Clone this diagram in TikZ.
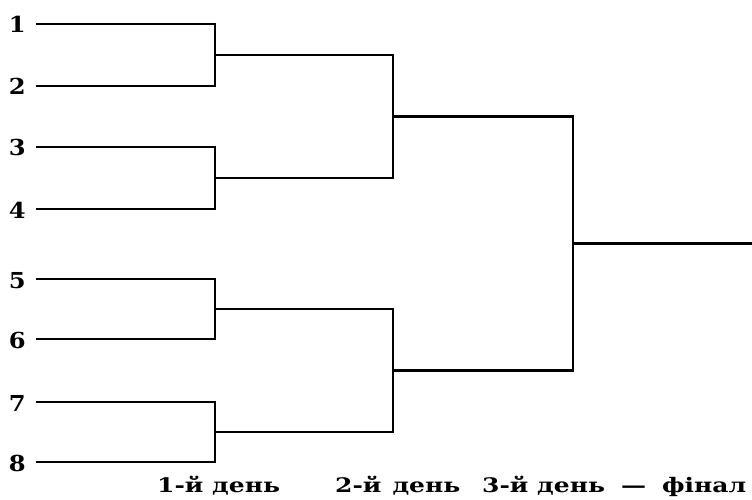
\documentclass[tikz,border=0pt]{standalone}
\usepackage{fontspec}
\newfontfamily\labfont[FakeStretch=1.25]{DejaVu Serif}
\newfontfamily\numfont[FakeStretch=1.1]{DejaVu Serif}
\begin{document}
\begin{tikzpicture}[x=1pt,y=-1pt,
  wire/.style={line width=2.8pt,line cap=rect,line join=miter},
  num/.style={font=\numfont\bfseries\fontsize{22}{22}\selectfont,anchor=base east,inner sep=0pt},
  day/.style={font=\labfont\bfseries\fontsize{20}{20}\selectfont,anchor=base west,inner sep=0pt}]
\useasboundingbox (0,0) rectangle (752,500);
% entry lines
\foreach \i/\y in {1/24,2/86,3/147,4/209,5/279,6/339,7/402,8/462}{
  \coordinate (s\i) at (37,\y);
  \coordinate (e\i) at (215,\y);
  \node[num] (n\i) at (26,\y+9) {\i};
}
% round 1 junctions
\coordinate (a12) at (215,55);  \coordinate (b12) at (393,55);
\coordinate (a34) at (215,178); \coordinate (b34) at (393,178);
\coordinate (a56) at (215,309); \coordinate (b56) at (393,309);
\coordinate (a78) at (215,432); \coordinate (b78) at (393,432);
% round 2 junctions
\coordinate (a14) at (393,116.5); \coordinate (b14) at (573,116.5);
\coordinate (a58) at (393,370.5); \coordinate (b58) at (573,370.5);
% final
\coordinate (af) at (573,243.5); \coordinate (bf) at (752,243.5);

\draw[wire] (s1) -- (e1) -- (e2) -- (s2);
\draw[wire] (s3) -- (e3) -- (e4) -- (s4);
\draw[wire] (s5) -- (e5) -- (e6) -- (s6);
\draw[wire] (s7) -- (e7) -- (e8) -- (s8);
\draw[wire] (a12) -- (b12) -- (b34) -- (a34);
\draw[wire] (a56) -- (b56) -- (b78) -- (a78);
\draw[wire] (a14) -- (b14) -- (b58) -- (a58);
\draw[wire] (af) -- (bf);

\node[day] (d1) at (157,492) {1-й день};
\node[day] (d2) at (335,492) {2-й\hspace{11pt}день};
\node[day] (d3) at (482,492) {3-й день\hspace{16pt}—\hspace{16pt}фінал};
\end{tikzpicture}
\end{document}
